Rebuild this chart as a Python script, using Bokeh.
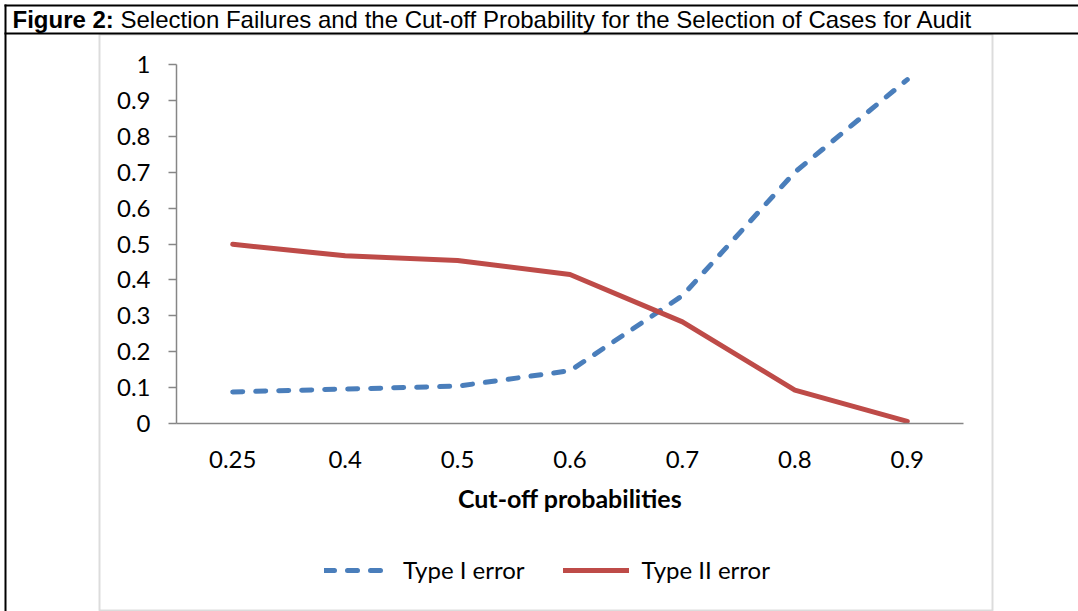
from bokeh.plotting import figure
from bokeh.models import (Range1d, FixedTicker, Legend, LegendItem,
                          Label, BoxAnnotation, Arrow)
from bokeh.embed import file_html
from bokeh.resources import INLINE

# ---- data ----
cutoffs = ["0.25", "0.4", "0.5", "0.6", "0.7", "0.8", "0.9"]
type1_error = [0.088, 0.096, 0.104, 0.147, 0.356, 0.700, 0.958]
type2_error = [0.499, 0.467, 0.454, 0.415, 0.283, 0.093, 0.006]
y_ticks = [0.0, 0.1, 0.2, 0.3, 0.4, 0.5, 0.6, 0.7, 0.8, 0.9, 1.0]
y_tick_labels = ["0", "0.1", "0.2", "0.3", "0.4", "0.5", "0.6", "0.7", "0.8", "0.9", "1"]
series_names = ["Type I error", "Type II error"]
title_bold = "Figure 2:"
title_rest = "Selection Failures and the Cut-off Probability for the Selection of Cases for Audit"
x_title = "Cut-off probabilities"

# category slots (centre of each category on a 0..n axis)
x_pos = [i + 0.5 for i in range(len(cutoffs))]

# ---- layout (page pixels) ----
OFF = 0
WC, HC = 1078, 611            # canvas size
PL, PR, PT, PB = 176, 963, 64, 423   # plot area in page pixels

def sx(px):
    return px - OFF

def sy(py):
    return HC - (py - OFF)

n = len(cutoffs)
ppx = (PR - PL) / n           # pixels per category
ppy = (PB - PT) / 1.0         # pixels per unit on y
x_start = -(PL - OFF) / ppx
x_end = n + (OFF + WC - PR) / ppx
y_end = 1.0 + (PT - OFF) / ppy
y_start = -(OFF + HC - PB) / ppy

BLUE = "#4A7EBB"
RED = "#BE4B48"
AXIS_GRAY = "#868686"
BORDER_GRAY = "#8C8C8C"
FONT = "Lato"

p = figure(width=WC, height=HC, output_backend="svg", toolbar_location=None,
           x_range=Range1d(x_start, x_end), y_range=Range1d(y_start, y_end),
           min_border_left=0, min_border_right=0,
           min_border_top=0, min_border_bottom=0)
p.outline_line_color = None
p.grid.visible = False
p.background_fill_color = "white"
p.border_fill_color = "white"

r1 = p.line(x_pos, type1_error, line_color=BLUE, line_width=5,
            line_dash="10 13", line_cap="round", line_join="round")
r2 = p.line(x_pos, type2_error, line_color=RED, line_width=5,
            line_cap="round", line_join="round")

# axes
ya = p.yaxis[0]
ya.fixed_location = 0
ya.bounds = (0, 1)
ya.ticker = FixedTicker(ticks=y_ticks)
ya.major_label_overrides = {t: l for t, l in zip(y_ticks, y_tick_labels)}
ya.minor_tick_line_color = None
ya.major_tick_in = 0
ya.major_tick_out = 8
ya.axis_line_color = AXIS_GRAY
ya.major_tick_line_color = AXIS_GRAY
ya.axis_line_width = 1.5
ya.major_tick_line_width = 1.5
ya.major_label_text_font = FONT
ya.major_label_text_font_size = "24px"
ya.major_label_text_color = "black"
ya.major_label_standoff = 18

xa = p.xaxis[0]
xa.fixed_location = 0
xa.bounds = (0, n)
xa.ticker = FixedTicker(ticks=x_pos)
xa.major_label_overrides = {x: c for x, c in zip(x_pos, cutoffs)}
xa.major_tick_in = 0
xa.major_tick_out = 0
xa.minor_tick_line_color = None
xa.axis_line_color = AXIS_GRAY
xa.axis_line_width = 1.5
xa.major_label_text_font = FONT
xa.major_label_text_font_size = "24px"
xa.major_label_text_color = "black"
xa.major_label_standoff = 27

# axis title
p.add_layout(Label(x=sx(569.5), y=sy(497), x_units="screen", y_units="screen",
                   text=x_title, text_align="center", text_baseline="middle",
                   text_font=FONT, text_font_style="bold", text_font_size="25px",
                   text_color="black"))

# figure caption
p.add_layout(Label(x=sx(12), y=sy(18.5), x_units="screen", y_units="screen",
                   text=title_bold, text_align="left", text_baseline="middle",
                   text_font="Liberation Sans", text_font_style="bold",
                   text_font_size="24px", text_color="black"))
p.add_layout(Label(x=sx(120), y=sy(18.5), x_units="screen", y_units="screen",
                   text=title_rest, text_align="left", text_baseline="middle",
                   text_font="Liberation Sans", text_font_size="24px",
                   text_color="black"))

# chart border (gray) and table lines (black)
p.add_layout(BoxAnnotation(left=sx(99), right=sx(992), top=sy(34), bottom=sy(610),
                           left_units="screen", right_units="screen",
                           top_units="screen", bottom_units="screen",
                           fill_alpha=0, line_color=BORDER_GRAY, line_width=2,
                           level="underlay"))
for (xs, ys, xe, ye) in [(4, 5, WC, 5), (4, 33, WC, 33), (5, 4, 5, HC)]:
    p.add_layout(Arrow(x_start=sx(xs), y_start=sy(ys), x_end=sx(xe), y_end=sy(ye),
                       start_units="screen", end_units="screen", end=None,
                       line_color="black", line_width=2))

legend = Legend(items=[LegendItem(label=series_names[0], renderers=[r1]),
                       LegendItem(label=series_names[1], renderers=[r2])],
                orientation="horizontal", location=(sx(324), sy(584)),
                border_line_color=None, background_fill_alpha=0,
                label_text_font=FONT, label_text_font_size="24px",
                label_text_color="black",
                glyph_width=66, glyph_height=20, label_standoff=13,
                spacing=38, padding=0, margin=0)
p.add_layout(legend)

open("out.html", "w").write(file_html(p, INLINE))
